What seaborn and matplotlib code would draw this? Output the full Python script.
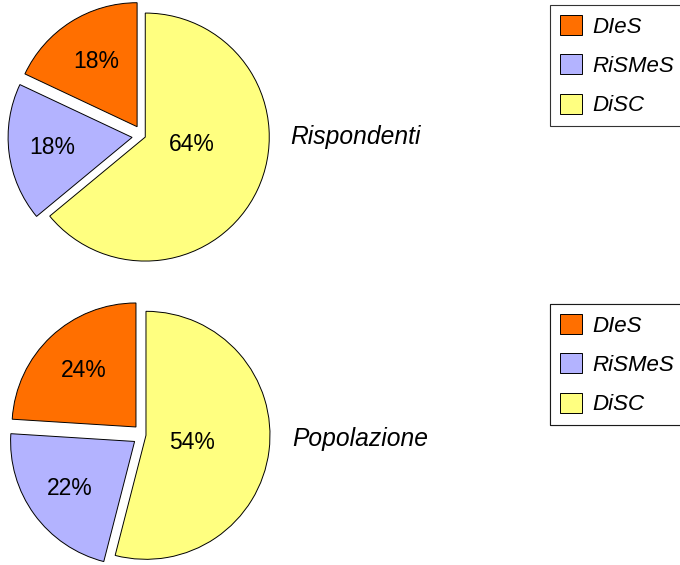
import numpy as np
import matplotlib
matplotlib.use("Agg")
import matplotlib.pyplot as plt
import seaborn as sns

# data
groups = ["DIeS", "RiSMeS", "DiSC"]
rispondenti = [18, 18, 64]
popolazione = [24, 22, 54]
titles = ["Rispondenti", "Popolazione"]
colors = ["#FF6F00", "#B3B3FF", "#FFFF80"]

sns.set_theme(style="white")
plt.rcParams['font.family'] = ["Liberation Sans", "DejaVu Sans"]
plt.rcParams['text.color'] = "black"

fig = plt.figure(figsize=(6.8, 5.65), dpi=100)
ax = fig.add_axes([0, 0, 1, 1])

R = 124
centers = [(143, 429), (143.5, 130)]
title_offsets = [(147, -1), (149, -4)]
explode = [11, 11, 2.5]  # in data units (pixels here)
# the big slice label sits nearer the middle of the pie
label_pos = [(0.62, None), (0.65, None), (0.38, -9)]

for vals, name, (cx, cy), (tx, ty) in zip([rispondenti, popolazione], titles, centers, title_offsets):
    wedges, texts, autotexts = ax.pie(vals, colors=colors, startangle=90, radius=R,
                                      center=(cx, cy), explode=explode,
                                      autopct='%d%%', pctdistance=0.62,
                                      wedgeprops=dict(edgecolor="black", linewidth=0.7),
                                      textprops=dict(fontsize=16.5, color="black"))
    for w, t, ex, (r, ang) in zip(wedges, autotexts, explode, label_pos):
        mid = np.deg2rad((w.theta1 + w.theta2) / 2)
        ox = cx + ex * np.cos(mid)
        oy = cy + ex * np.sin(mid)
        a = mid if ang is None else np.deg2rad(ang)
        t.set_position((ox + r * R * np.cos(a), oy + r * R * np.sin(a)))
    ax.text(cx + tx, cy + ty, name, fontsize=17.7, style="italic", va="center", ha="left",
            color="black")

    leg = ax.legend(wedges, groups, loc="upper left", bbox_to_anchor=(550, cy + 131),
                    bbox_transform=ax.transData, frameon=True, fancybox=False,
                    edgecolor="black", prop=dict(style="italic", size=16),
                    handlelength=1.0, handleheight=1.0, labelspacing=0.76,
                    borderpad=0.45, handletextpad=0.45, borderaxespad=0,
                    labelcolor="black")
    leg.get_frame().set_linewidth(0.8)
    ax.add_artist(leg)

ax.set_xlim(0, 680)
ax.set_ylim(0, 565)
ax.set_aspect("equal")
ax.axis("off")

plt.savefig("out.png", dpi=100)
